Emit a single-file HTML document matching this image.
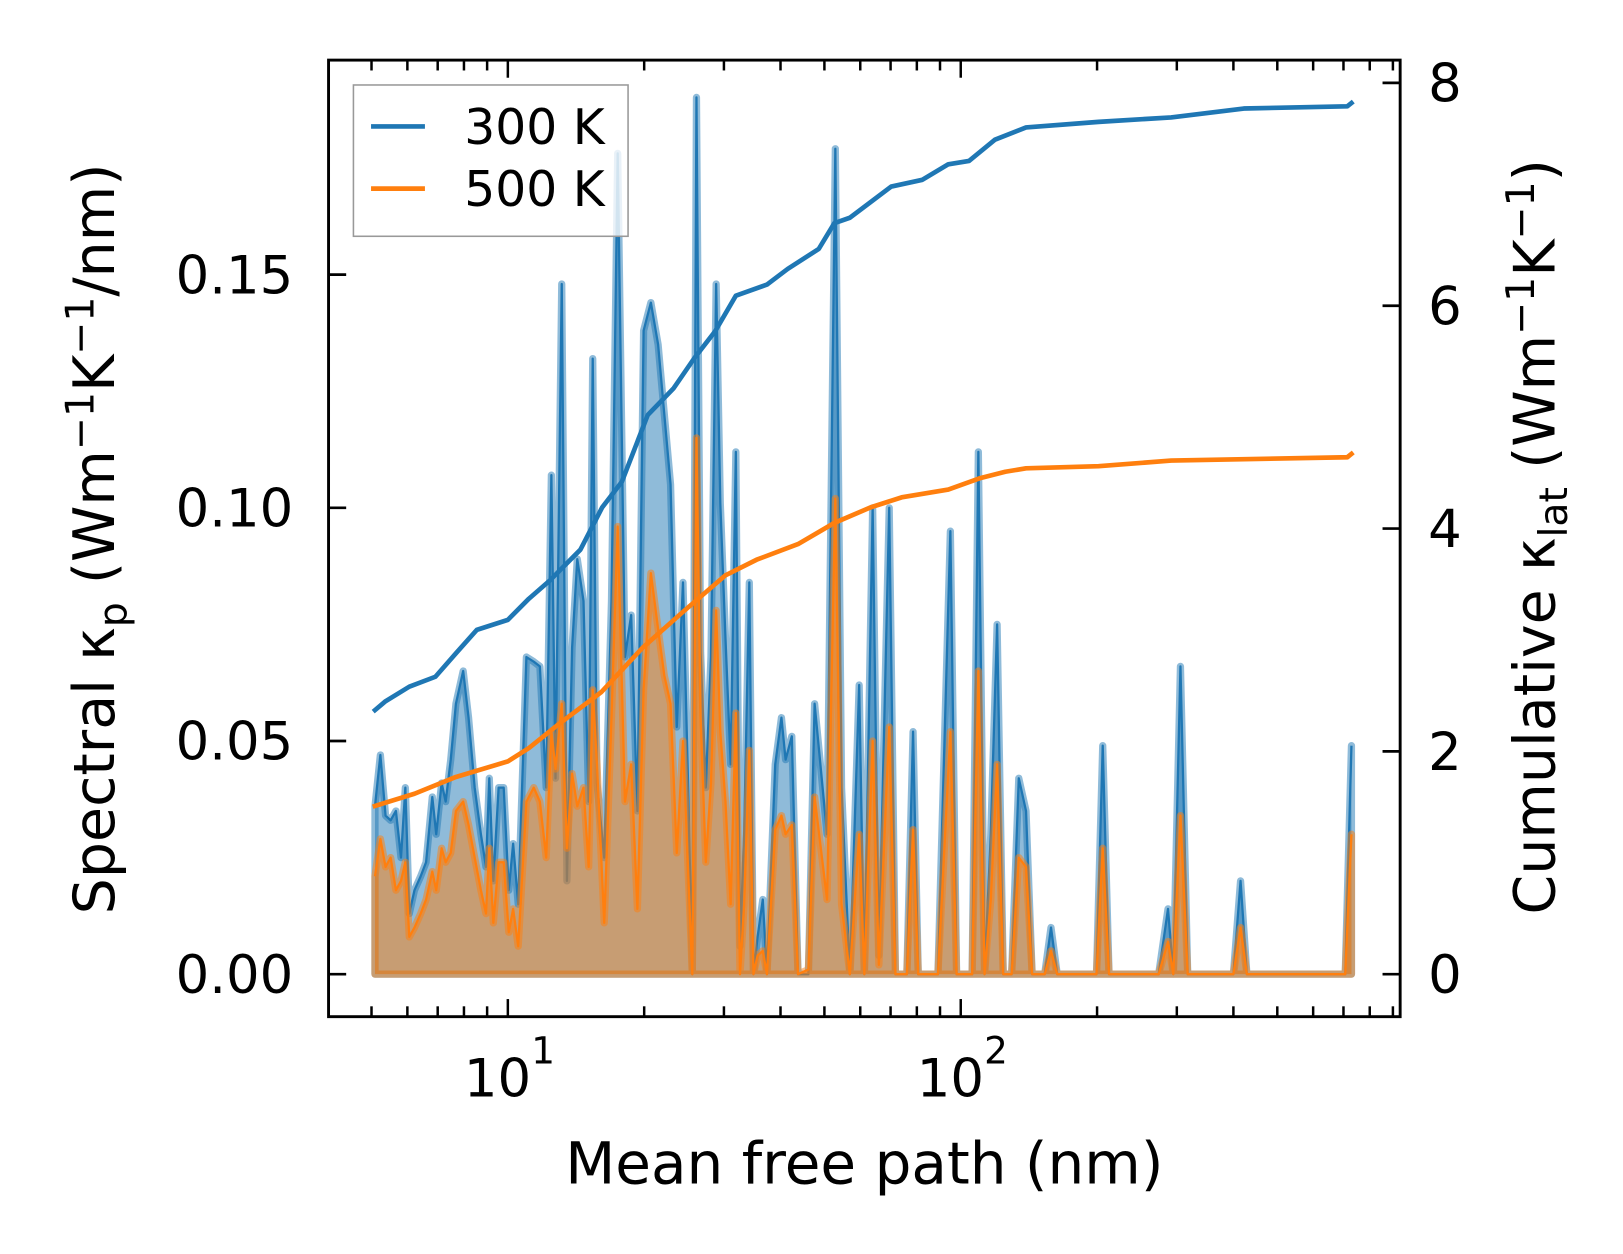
<!DOCTYPE html>
<html><head><meta charset="utf-8">
<style>
html,body{margin:0;padding:0;background:#fff;}
svg{display:block;font-family:"DejaVu Sans","Liberation Sans",sans-serif;}
</style></head>
<body>
<svg id="chart" width="1623" height="1254" viewBox="0 0 1566 1210" xmlns="http://www.w3.org/2000/svg">
<rect x="0" y="0" width="1566" height="1210" fill="#fff"/>
<g id="plot"></g>
<g id="axes"></g>
</svg>
<script>
// spectral data (mean free path nm)
const mfp = [5.09,5.23,5.37,5.51,5.66,5.81,5.94,6.06,6.22,6.42,6.60,6.81,6.95,7.14,7.29,7.48,7.68,7.97,8.19,8.45,8.72,8.95,9.10,9.29,9.54,9.79,10.05,10.27,10.54,10.99,11.41,11.77,12.15,12.48,12.74,13.15,13.50,13.86,14.23,14.69,15.08,15.40,15.73,16.32,16.94,17.48,18.14,18.72,19.32,19.94,20.69,21.47,22.16,22.87,23.60,24.36,25.01,25.55,26.09,26.65,27.36,28.09,28.84,29.45,30.24,31.04,31.87,32.55,33.24,34.13,34.86,35.60,36.55,37.33,38.94,40.19,41.05,42.37,43.73,46.09,47.57,50.68,52.86,54.56,56.91,59.67,61.26,63.90,65.95,69.51,71.75,76.03,78.48,80.57,89.06,94.87,97.91,105.96,109.37,112.89,116.5,120.3,124.1,129.5,134.3,139.4,143.8,153.2,158.2,163.3,199.4,205.8,212.5,273.6,286.9,294.6,305.6,317.1,399.9,414.9,428.3,706.2,729.0];
const spec300 = [.036,.047,.034,.033,.035,.025,.040,.013,.018,.021,.024,.038,.030,.041,.037,.046,.058,.065,.055,.040,.030,.023,.042,.020,.040,.040,.018,.028,.015,.068,.067,.066,.040,.107,.042,.148,.020,.070,.089,.080,.037,.132,.041,.025,.080,.176,.068,.077,.035,.138,.144,.135,.120,.105,.053,.084,.040,.000,.188,.069,.040,.068,.148,.101,.072,.045,.112,.006,.030,.084,.000,.008,.016,.000,.045,.055,.046,.051,.000,.000,.058,.030,.177,.040,.000,.062,.000,.100,.004,.100,.000,.000,.052,.000,.000,.095,.000,.000,.112,.000,.030,.075,.000,.000,.042,.035,.000,.000,.010,.000,.000,.049,.000,.000,.014,.000,.066,.000,.000,.020,.000,.000,.049];
const spec500 = [.021,.029,.023,.025,.018,.020,.024,.008,.010,.013,.016,.022,.018,.027,.024,.026,.035,.037,.032,.025,.018,.013,.027,.011,.024,.024,.009,.014,.006,.037,.040,.037,.025,.052,.044,.058,.027,.043,.036,.040,.023,.061,.045,.011,.055,.096,.037,.045,.014,.061,.086,.074,.064,.058,.026,.050,.022,.000,.115,.055,.024,.041,.078,.052,.037,.015,.056,.000,.015,.048,.000,.004,.005,.000,.031,.034,.030,.032,.000,.001,.038,.016,.102,.015,.000,.030,.000,.050,.002,.053,.000,.000,.031,.000,.000,.052,.000,.000,.065,.000,.016,.045,.000,.000,.025,.023,.000,.000,.005,.000,.000,.027,.000,.000,.007,.000,.034,.000,.000,.010,.000,.000,.030];
// cumulative data
const cumMfp300 = [5.09,5.37,6.06,6.92,7.68,8.54,10.0,11.13,12.35,14.46,16.15,17.85,20.37,23.23,25.82,28.68,31.87,37.33,41.48,48.58,52.58,56.91,63.23,70.26,82.28,93.86,104.3,119.0,139.4,201.5,291.5,421.6,713.7,729.0];
const cum300 = [2.37,2.45,2.58,2.67,2.88,3.09,3.18,3.37,3.53,3.81,4.19,4.42,5.02,5.26,5.53,5.77,6.09,6.19,6.33,6.51,6.74,6.79,6.93,7.07,7.13,7.27,7.30,7.49,7.60,7.65,7.69,7.77,7.79,7.82];
const cumMfp500 = [5.09,6.22,7.68,10.0,11.13,13.01,16.07,19.84,24.49,30.24,35.42,43.73,52.58,63.23,74.05,93.86,109.9,125.4,139.4,201.5,291.5,713.7,729.0];
const cum500 = [1.51,1.62,1.77,1.91,2.03,2.25,2.53,2.93,3.26,3.58,3.72,3.86,4.05,4.19,4.28,4.35,4.45,4.51,4.54,4.56,4.61,4.64,4.67];
const leftTicks = [0,0.05,0.10,0.15];
const leftTickLabels = ["0.00","0.05","0.10","0.15"];
const rightTicks = [0,2,4,6,8];
const rightTickLabels = ["0","2","4","6","8"];
const xMajor = [10,100];
const xMajorExp = ["1","2"];

const NS="http://www.w3.org/2000/svg";
const X0=317,X1=1351,Y0=58,Y1=981;
function xS(m){return 490+437*(Math.log10(m)-1);}
function yL(v){return 940-4500*v;}
function yR(c){return 940-107.5*c;}
function mk(tag,attrs,parent){const e=document.createElementNS(NS,tag);for(const k in attrs)e.setAttribute(k,attrs[k]);parent.appendChild(e);return e;}
const plot=document.getElementById('plot');
const axes=document.getElementById('axes');

function spectral(vals,color,name){
  let top="";
  for(let i=0;i<mfp.length;i++){top+=(i?"L":"M")+xS(mfp[i]).toFixed(1)+","+yL(vals[i]).toFixed(1);}
  const base="L"+xS(mfp[mfp.length-1]).toFixed(1)+","+yL(0)+"L"+xS(mfp[0]).toFixed(1)+","+yL(0)+"Z";
  const f=mk('path',{d:top+base,fill:color,'fill-opacity':0.5,stroke:color,'stroke-opacity':0.5,'stroke-width':7,'stroke-linejoin':'round'},plot);
  
  
  const l=mk('path',{d:top,fill:'none',stroke:color,'stroke-width':2.2,'stroke-linejoin':'round'},plot);
  
  
}
spectral(spec300,'#1f77b4','spectral-300k');
spectral(spec500,'#ff7f0e','spectral-500k');

function cumLine(xs,ys,color,name){
  let d="";
  for(let i=0;i<xs.length;i++){d+=(i?"L":"M")+xS(xs[i]).toFixed(1)+","+yR(ys[i]).toFixed(1);}
  const p=mk('path',{d:d,fill:'none',stroke:color,'stroke-width':4.5,'stroke-linejoin':'round','stroke-linecap':'square'},plot);
  
  
}
cumLine(cumMfp300,cum300,'#1f77b4','cumulative-300k');
cumLine(cumMfp500,cum500,'#ff7f0e','cumulative-500k');

// frame
const fr=mk('rect',{x:X0,y:Y0,width:X1-X0,height:Y1-Y0,fill:'none',stroke:'#000','stroke-width':2.8},axes);



// left ticks
leftTicks.forEach((v,i)=>{
  const y=yL(v);
  mk('line',{x1:X0,x2:X0+17,y1:y,y2:y,stroke:'#000','stroke-width':2.6},axes);
  const t=mk('text',{x:283,y:y+18,'text-anchor':'end','font-size':51,fill:'#000'},axes);
  t.textContent=leftTickLabels[i];
  
  
});
// right ticks
rightTicks.forEach((v,i)=>{
  const y=yR(v);
  mk('line',{x1:X1-17,x2:X1,y1:y,y2:y,stroke:'#000','stroke-width':2.6},axes);
  const t=mk('text',{x:1378,y:y+18,'text-anchor':'start','font-size':51,fill:'#000'},axes);
  t.textContent=rightTickLabels[i];
  
  
});
// x ticks
const xmin=Math.pow(10,1+(X0-490)/437), xmax=Math.pow(10,1+(X1-490)/437);
[1,10,100].forEach(dec=>{
  for(let k=1;k<10;k++){
    const m=dec*k; if(m<xmin||m>xmax) continue;
    const x=xS(m), L=(k===1)?17:10;
    mk('line',{x1:x,x2:x,y1:Y1,y2:Y1-L,stroke:'#000','stroke-width':2.4},axes);
    mk('line',{x1:x,x2:x,y1:Y0,y2:Y0+L,stroke:'#000','stroke-width':2.4},axes);
  }
});
xMajor.forEach((m,i)=>{
  const t=mk('text',{x:xS(m)-10,y:1058,'text-anchor':'middle','font-size':51,fill:'#000'},axes);
  t.textContent='10';
  
  
  const s=mk('text',{x:xS(m)+34,y:1026,'text-anchor':'middle','font-size':36,fill:'#000'},axes);
  s.textContent=xMajorExp[i];
  
  
});
</script>
<svg style="position:absolute;left:0;top:0" width="1623" height="1254" viewBox="0 0 1566 1210" xmlns="http://www.w3.org/2000/svg" font-family="DejaVu Sans, Liberation Sans, sans-serif">
<text x="834" y="1142" text-anchor="middle" font-size="56">Mean free path (nm)</text>
<text transform="translate(110,520) rotate(-90)" text-anchor="middle" font-size="55">Spectral κ<tspan font-size="38" dy="12">p</tspan><tspan dy="-12"> (Wm</tspan><tspan font-size="38" dy="-20">−1</tspan><tspan dy="20">K</tspan><tspan font-size="38" dy="-20">−1</tspan><tspan dy="20">/nm)</tspan></text>
<text transform="translate(1500,518) rotate(-90)" text-anchor="middle" font-size="55">Cumulative κ<tspan font-size="38" dy="12">lat</tspan><tspan dy="-12"> (Wm</tspan><tspan font-size="38" dy="-20">−1</tspan><tspan dy="20">K</tspan><tspan font-size="38" dy="-20">−1</tspan><tspan dy="20">)</tspan></text>
<g>
<rect x="341" y="82" width="265" height="146" fill="#fff" fill-opacity="0.8" stroke="#999" stroke-width="1.5"/>
<line x1="358" x2="410" y1="122" y2="122" stroke="#1f77b4" stroke-width="4.5"/>
<text x="448" y="139" font-size="47">300 K</text>
<line x1="358" x2="410" y1="182" y2="182" stroke="#ff7f0e" stroke-width="4.5"/>
<text x="448" y="199" font-size="47">500 K</text>
</g>
</svg>
</body></html>
